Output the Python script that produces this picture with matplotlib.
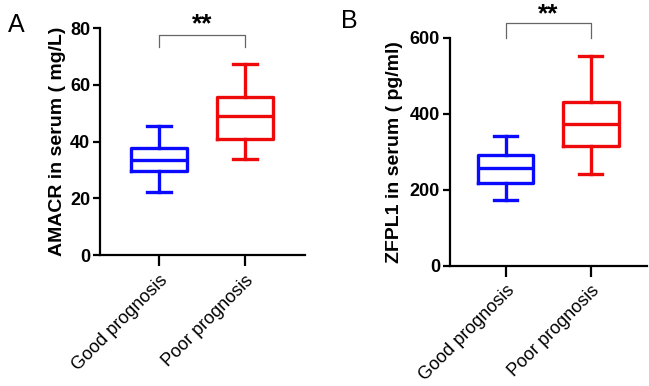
import matplotlib
matplotlib.use("Agg")
import matplotlib.pyplot as plt

plt.rcParams['font.family'] = ['Liberation Sans', 'Noto Sans CJK SC', 'DejaVu Sans']

groups = ["Good prognosis", "Poor prognosis"]
colors = ["#0a0aff", "#ee0a0a"]

# AMACR (mg/L): low whisker, Q1, median, Q3, high whisker
amacr_lo = [22.2, 34.0]
amacr_q1 = [29.6, 40.9]
amacr_med = [33.5, 49.0]
amacr_q3 = [37.7, 55.9]
amacr_hi = [45.4, 67.2]

# ZFPL1 (pg/ml)
zfpl1_lo = [172, 242]
zfpl1_q1 = [218, 315]
zfpl1_med = [256, 373]
zfpl1_q3 = [291, 432]
zfpl1_hi = [341, 552]


def draw_panel(ax, lo, q1, med, q3, hi, ymax, yticks, ylabel, xlim, bracket, star_y, lpad):
    stats = []
    for i in range(len(groups)):
        stats.append(dict(whislo=lo[i], q1=q1[i], med=med[i], q3=q3[i], whishi=hi[i], fliers=[]))
    for i, s in enumerate(stats):
        c = colors[i]
        ax.bxp([s], positions=[i], widths=0.65, showfliers=False, showcaps=True,
               boxprops=dict(color=c, linewidth=2.4),
               medianprops=dict(color=c, linewidth=2.4),
               whiskerprops=dict(color=c, linewidth=2.4),
               capprops=dict(color=c, linewidth=2.4),
               capwidths=0.27)
    ax.set_xlim(*xlim)
    ax.set_ylim(0, ymax)
    ax.set_yticks(yticks)
    ax.set_xticks([0, 1])
    ax.set_xticklabels(groups, rotation=45, ha='right', rotation_mode='anchor', fontsize=13)
    for lab in ax.get_yticklabels():
        lab.set_fontweight('bold')
        lab.set_fontsize(13)
    ax.set_ylabel(ylabel, fontsize=14, fontweight='bold', labelpad=lpad)
    for sp in ['top', 'right']:
        ax.spines[sp].set_visible(False)
    for sp in ['left', 'bottom']:
        ax.spines[sp].set_linewidth(1.6)
    ax.tick_params(axis='y', width=1.6, length=5, pad=2)
    ax.tick_params(axis='x', width=1.6, length=8, pad=4)
    ytop, yend = bracket
    ax.plot([0, 0, 1, 1], [yend, ytop, ytop, yend], color='#666666', lw=0.9, clip_on=False)
    ax.text(0.5, star_y, "**", ha='center', va='center', fontsize=19, fontweight='bold', clip_on=False)


fig = plt.figure(figsize=(6.49, 3.86), dpi=100)
axA = fig.add_axes([0.154, 0.339, 0.316, 0.588])
axB = fig.add_axes([0.693, 0.312, 0.304, 0.590])

draw_panel(axA, amacr_lo, amacr_q1, amacr_med, amacr_q3, amacr_hi, 80, [0, 20, 40, 60, 80],
           "AMACR in serum ( mg/L)", (-0.686, 1.698), (77.7, 73.3), 81.5, 3)
draw_panel(axB, zfpl1_lo, zfpl1_q1, zfpl1_med, zfpl1_q3, zfpl1_hi, 600, [0, 200, 400, 600],
           "ZFPL1 in serum ( pg/ml)", (-0.655, 1.66), (640, 600), 662, 5)

fig.text(0.012, 0.935, "A", fontsize=18, va='center')
fig.text(0.525, 0.945, "B", fontsize=18, va='center')

fig.savefig("out.png", dpi=100)
